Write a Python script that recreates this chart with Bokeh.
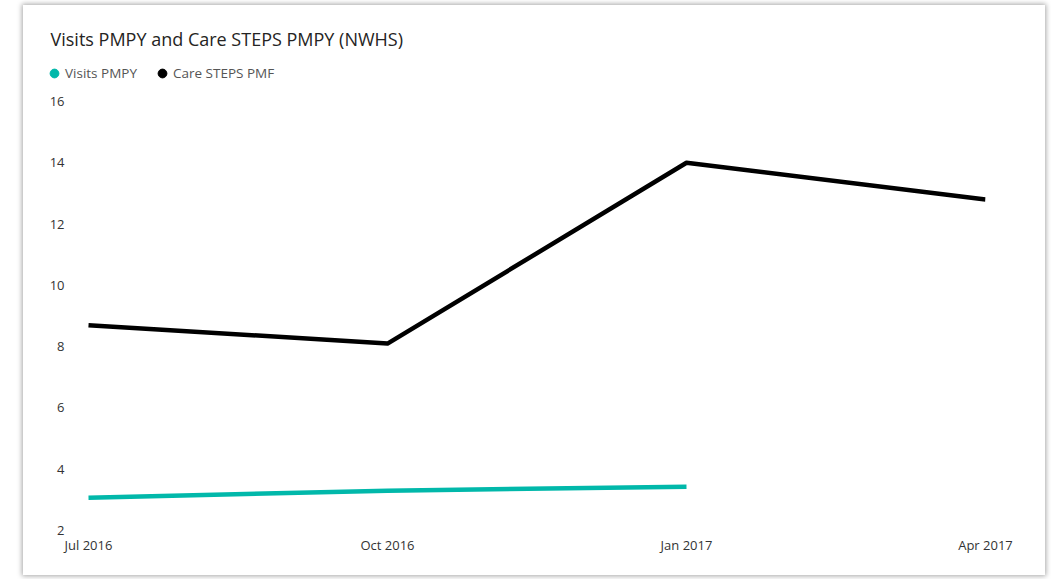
from bokeh.plotting import figure
from bokeh.models import Range1d, FixedTicker, Label, Legend, LegendItem, ColumnDataSource
from bokeh.embed import file_html
from bokeh.resources import INLINE

# ---- data ----
months = ["Jul 2016", "Oct 2016", "Jan 2017", "Apr 2017"]
care_steps_pmpy = [8.7, 8.1, 14.0, 12.8]
visits_months = ["Jul 2016", "Oct 2016", "Jan 2017"]
visits_pmpy = [3.07, 3.3, 3.43]
y_ticks = [2, 4, 6, 8, 10, 12, 14, 16]
title_text = "Visits PMPY and Care STEPS PMPY (NWHS)"
legend_labels = ["Visits PMPY", "Care STEPS PMF"]

TEAL = "#01B8AA"
BLACK = "#000000"
FONT = "Open Sans"

# ---- layout constants (card pixels) ----
CARD_W, CARD_H = 1022, 570
FRAME_L, FRAME_R, FRAME_T, FRAME_B = 18, 962, 10, 525   # frame edges in card px
X0_PX = 65                                              # card px of first category
PX_PER_X = (FRAME_R - X0_PX) / (len(months) - 1)
PX_PER_Y = (FRAME_B - 96) / (max(y_ticks) - min(y_ticks))

x_lo = -(X0_PX - FRAME_L) / PX_PER_X
y_lo = min(y_ticks)
y_hi = y_lo + (FRAME_B - FRAME_T) / PX_PER_Y

xi = {m: i for i, m in enumerate(months)}

p = figure(
    width=CARD_W, height=CARD_H,
    x_range=Range1d(x_lo, len(months) - 1), y_range=Range1d(y_lo, y_hi),
    output_backend="svg", toolbar_location=None,
    min_border_left=FRAME_L, min_border_right=CARD_W - FRAME_R,
    min_border_top=FRAME_T, min_border_bottom=CARD_H - FRAME_B,
    margin=(5, 0, 0, 23),
    styles={"box-shadow": "0 0 5px 1px rgba(0,0,0,0.35)"},
)
p.outline_line_color = None
p.grid.visible = False
p.background_fill_color = "white"
p.border_fill_color = "white"

care_src = ColumnDataSource(dict(x=[xi[m] for m in months], y=care_steps_pmpy))
vis_src = ColumnDataSource(dict(x=[xi[m] for m in visits_months], y=visits_pmpy))

p.line("x", "y", source=care_src, line_color=BLACK, line_width=4.5, line_join="round")
p.line("x", "y", source=vis_src, line_color=TEAL, line_width=4.5, line_join="round")

# zero-size markers on the series: invisible on the plot, give the legend its dots
r_v = p.scatter("x", "y", source=vis_src, marker="circle", size=0,
                fill_color=TEAL, line_color=TEAL)
r_c = p.scatter("x", "y", source=care_src, marker="circle", size=0,
                fill_color=BLACK, line_color=BLACK)

legend = Legend(
    items=[LegendItem(label=legend_labels[0], renderers=[r_v]),
           LegendItem(label=legend_labels[1], renderers=[r_c])],
    orientation="horizontal", location=(2, FRAME_B - 79),
    border_line_color=None, background_fill_alpha=0,
    glyph_width=22, glyph_height=22, label_standoff=0, spacing=14,
    padding=0, margin=0,
    label_text_font=FONT, label_text_font_size="13.5px", label_text_color="#555555",
)
p.add_layout(legend)

title = Label(x=x_lo + (27 - FRAME_L) / PX_PER_X, y=y_lo + (FRAME_B - 33) / PX_PER_Y,
              text=title_text, text_font=FONT, text_font_size="18px",
              text_color="#252423", text_baseline="middle", text_align="left")
p.add_layout(title)

# axes
p.xaxis.ticker = FixedTicker(ticks=list(range(len(months))))
p.xaxis.major_label_overrides = {i: m for i, m in enumerate(months)}
p.yaxis.ticker = FixedTicker(ticks=y_ticks)
for ax in (p.xaxis[0], p.yaxis[0]):
    ax.axis_line_color = None
    ax.major_tick_line_color = None
    ax.minor_tick_line_color = None
    ax.major_label_text_font = FONT
    ax.major_label_text_font_size = "13px"
    ax.major_label_text_color = "#333333"
p.xaxis.major_label_standoff = -1
p.yaxis.major_label_standoff = -(47 - FRAME_L)

open("out.html", "w").write(file_html(p, INLINE))
